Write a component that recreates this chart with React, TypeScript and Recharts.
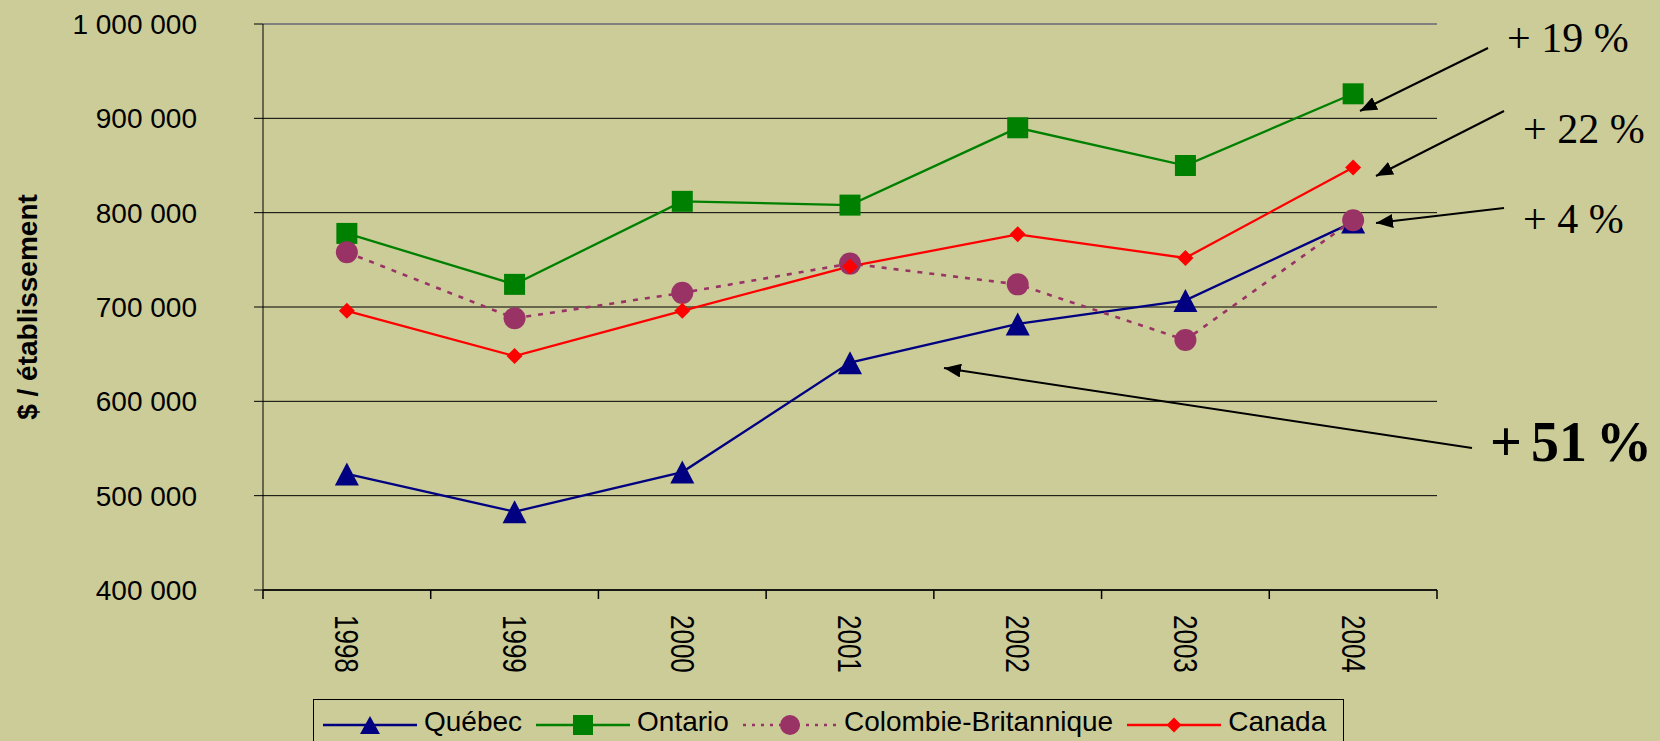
import React from 'react';
import { LineChart, Line, XAxis, YAxis, CartesianGrid, ReferenceLine } from 'recharts';

const YEARS = ['1998', '1999', '2000', '2001', '2002', '2003', '2004'];
const QUEBEC = [523000, 483000, 525000, 641000, 682000, 707000, 790000];
const ONTARIO = [778000, 724000, 812000, 808000, 890000, 850000, 926000];
const COLOMBIE = [758000, 688000, 715000, 746000, 724000, 665000, 792000];
const CANADA = [696000, 648000, 696000, 743000, 777000, 752000, 848000];
const Y_TICKS = [400000, 500000, 600000, 700000, 800000, 900000, 1000000];

const data = YEARS.map((year, i) => ({
  year,
  quebec: QUEBEC[i],
  ontario: ONTARIO[i],
  colombie: COLOMBIE[i],
  canada: CANADA[i],
}));

const W = 1660;
const H = 741;
const PLOT_LEFT = 263;
const PLOT_RIGHT = 1437;
const PLOT_TOP = 24;
const PLOT_BOTTOM = 590;
const X_AXIS_H = 100;
const HALF_BAND = (PLOT_RIGHT - PLOT_LEFT) / (YEARS.length * 2);

const BG = '#CCCC99';
const SANS = '"Liberation Sans", Arial, sans-serif';
const SERIF = '"Liberation Serif", "Times New Roman", serif';

const fmt = (v: number) => String(v).replace(/\B(?=(\d{3})+(?!\d))/g, ' ');

// marker shapes
const Triangle = ({ cx, cy, w = 24, h = 23, fill }: any) =>
  cx == null ? null : (
    <polygon points={`${cx},${cy - h / 2} ${cx + w / 2},${cy + h / 2} ${cx - w / 2},${cy + h / 2}`} fill={fill} />
  );
const Square = ({ cx, cy, s = 21, fill }: any) =>
  cx == null ? null : <rect x={cx - s / 2} y={cy - s / 2} width={s} height={s} fill={fill} />;
const Circle = ({ cx, cy, r = 11, fill }: any) =>
  cx == null ? null : <circle cx={cx} cy={cy} r={r} fill={fill} />;
const Diamond = ({ cx, cy, d = 8, fill }: any) =>
  cx == null ? null : (
    <polygon points={`${cx},${cy - d} ${cx + d},${cy} ${cx},${cy + d} ${cx - d},${cy}`} fill={fill} />
  );

const SERIES = [
  { key: 'quebec', name: 'Québec', color: '#000080', width: 2.3, dash: undefined, Marker: Triangle, legendDash: undefined },
  { key: 'ontario', name: 'Ontario', color: '#008000', width: 2.3, dash: undefined, Marker: Square, legendDash: undefined },
  { key: 'colombie', name: 'Colombie-Britannique', color: '#993366', width: 2.6, dash: '5 7', Marker: Circle, legendDash: '3 6' },
  { key: 'canada', name: 'Canada', color: '#FF0000', width: 2.3, dash: undefined, Marker: Diamond, legendDash: undefined },
];

const YearTick = ({ x, y, payload, index }: any) => (
  <g>
    <line x1={x - HALF_BAND} x2={x - HALF_BAND} y1={y} y2={y + 9} stroke="#000" strokeWidth={1.5} />
    {index === YEARS.length - 1 && (
      <line x1={x + HALF_BAND} x2={x + HALF_BAND} y1={y} y2={y + 9} stroke="#000" strokeWidth={1.5} />
    )}
    <g transform={`translate(${x},${y + 25}) rotate(90) scale(1,1.25)`}>
      <text x={0} y={0} textAnchor="start" dominantBaseline="central" fontSize={26} fill="#000" fontFamily={SANS}>
        {payload.value}
      </text>
    </g>
  </g>
);

const Arrow = ({ x1, y1, x2, y2 }: any) => (
  <line x1={x1} y1={y1} x2={x2} y2={y2} stroke="#000" strokeWidth={2} markerEnd="url(#arrowHead)" />
);

export default function App() {
  return (
    <div style={{ position: 'fixed', left: 0, top: 0, width: W, height: H, overflow: 'hidden', background: BG }}>
      <LineChart
        width={W}
        height={H}
        data={data}
        margin={{ top: PLOT_TOP, right: W - PLOT_RIGHT, bottom: H - PLOT_BOTTOM - X_AXIS_H, left: 0 }}
      >
        <CartesianGrid vertical={false} stroke="#000" strokeWidth={1} />
        <XAxis
          dataKey="year"
          height={X_AXIS_H}
          interval={0}
          padding={{ left: HALF_BAND, right: HALF_BAND }}
          tickLine={false}
          tickSize={0}
          tickMargin={0}
          axisLine={{ stroke: '#000', strokeWidth: 1.5 }}
          tick={<YearTick />}
        />
        <YAxis
          width={PLOT_LEFT}
          domain={[400000, 1000000]}
          ticks={Y_TICKS}
          tickFormatter={fmt}
          tickSize={9}
          tickMargin={57}
          tickLine={{ stroke: '#000' }}
          axisLine={{ stroke: '#000', strokeWidth: 1 }}
          tick={{ fontSize: 28, fill: '#000', fontFamily: SANS }}
        />
        <YAxis
          yAxisId="right"
          orientation="right"
          width={0}
          tick={false}
          tickLine={false}
          axisLine={{ stroke: '#808080', strokeWidth: 2 }}
        />
        <ReferenceLine y={1000000} stroke="#808080" strokeWidth={2} />
        {SERIES.map((s) => (
          <Line
            key={s.key}
            dataKey={s.key}
            name={s.name}
            stroke={s.color}
            strokeWidth={s.width}
            strokeDasharray={s.dash}
            type="linear"
            dot={(p: any) => <s.Marker key={`${s.key}-${p.index}`} cx={p.cx} cy={p.cy} fill={s.color} />}
            activeDot={false}
            isAnimationActive={false}
          />
        ))}
      </LineChart>

      <svg width={W} height={H} style={{ position: 'absolute', left: 0, top: 0, pointerEvents: 'none' }}>
        <defs>
          <marker id="arrowHead" markerUnits="userSpaceOnUse" markerWidth={18} markerHeight={14} refX={17} refY={7} orient="auto">
            <path d="M0,0 L17,7 L0,14 z" fill="#000" />
          </marker>
        </defs>
        <text
          transform={`translate(27,${(PLOT_TOP + PLOT_BOTTOM) / 2}) rotate(-90)`}
          textAnchor="middle"
          dominantBaseline="central"
          fontSize={28}
          fontWeight="bold"
          fontFamily={SANS}
          fill="#000"
        >
          $ / établissement
        </text>
        <Arrow x1={1488} y1={48} x2={1360} y2={111} />
        <Arrow x1={1504} y1={111} x2={1376} y2={176} />
        <Arrow x1={1504} y1={208} x2={1376} y2={223} />
        <Arrow x1={1472} y1={448} x2={944} y2={368} />
        <text x={1507} y={52} fontSize={42} fontFamily={SERIF} fill="#000">+ 19 %</text>
        <text x={1523} y={143} fontSize={42} fontFamily={SERIF} fill="#000">+ 22 %</text>
        <text x={1523} y={233} fontSize={42} fontFamily={SERIF} fill="#000">+ 4 %</text>
        <text x={1490} y={461} fontSize={56} fontWeight="bold" fontFamily={SERIF} fill="#000" style={{ wordSpacing: -5 }}>
          + 51 %
        </text>
      </svg>

      <div
        style={{
          position: 'absolute',
          left: 313,
          top: 699,
          width: 1031,
          height: 50,
          boxSizing: 'border-box',
          border: '1px solid #000',
          display: 'flex',
          alignItems: 'center',
          paddingLeft: 9,
          fontFamily: SANS,
          fontSize: 28,
          color: '#000',
        }}
      >
        {SERIES.map((s) => (
          <div key={s.key} style={{ display: 'flex', alignItems: 'center', marginRight: 14 }}>
            <svg width={94} height={24}>
              <line x1={0} x2={94} y1={13} y2={13} stroke={s.color} strokeWidth={2.3} strokeDasharray={s.legendDash} />
              <s.Marker cx={47} cy={13} fill={s.color} w={20} h={18} s={20} r={10} d={7.5} />
            </svg>
            <span style={{ marginLeft: 7, lineHeight: '28px', position: 'relative', top: -2 }}>{s.name}</span>
          </div>
        ))}
      </div>
    </div>
  );
}
